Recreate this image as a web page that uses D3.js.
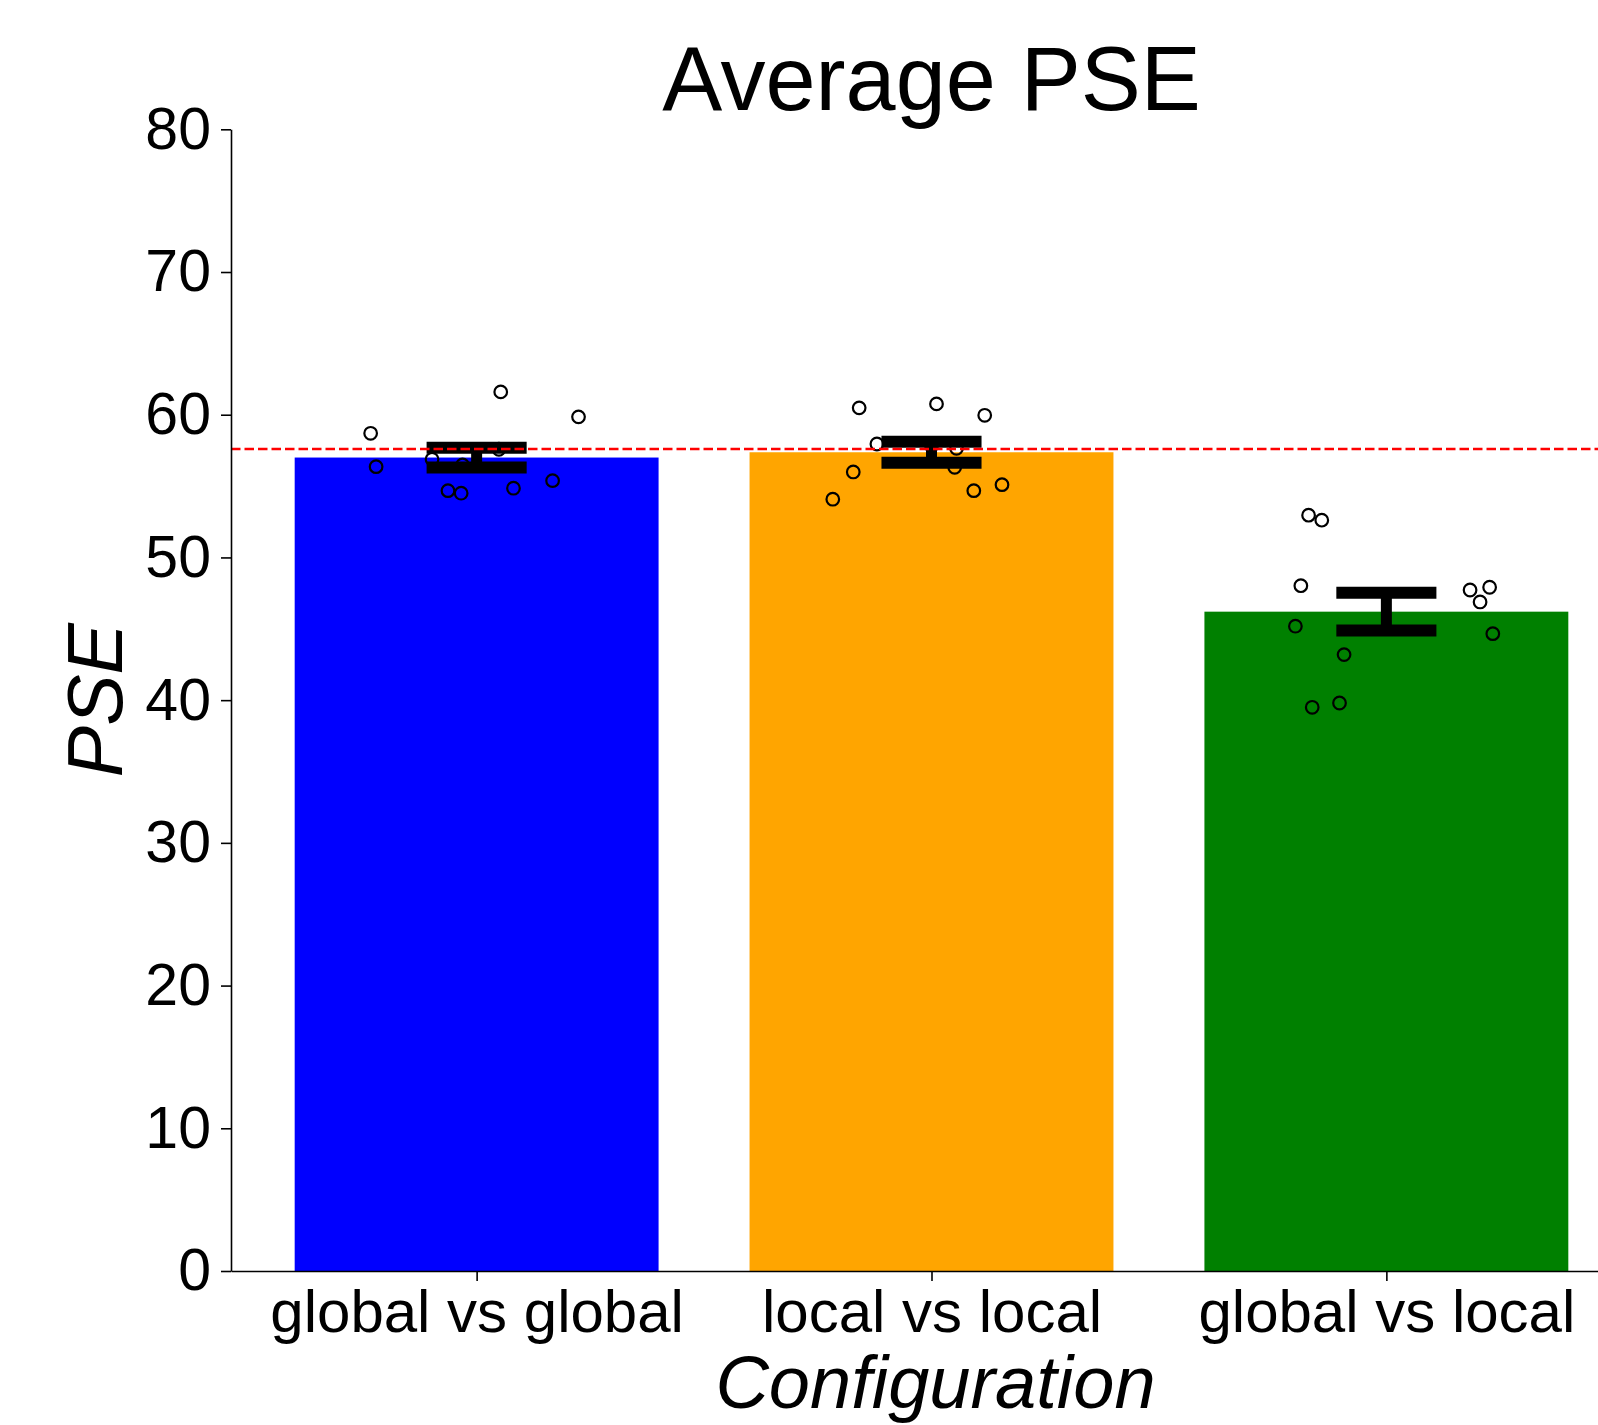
<!DOCTYPE html>
<html>
<head>
<meta charset="utf-8">
<script src="https://cdn.jsdelivr.net/npm/d3@7"></script>
<style>
  body { margin: 0; background: #fff; }
  text { font-family: "Liberation Sans", Arial, Helvetica, sans-serif; }
</style>
</head>
<body>
<div id="chart"></div>
<script>
// data
var categories = ["global vs global", "local vs local", "global vs local"];
var barColors = ["#0000ff", "#ffa500", "#008000"];
var means = [57.0, 57.37, 46.2];
var errors = [0.69, 0.73, 1.32];
var refLine = 57.6;
var yTicks = [0, 10, 20, 30, 40, 50, 60, 70, 80];

// single participants: jitter (category units) and value
var ptsGlobalGlobal = [
  [-0.233, 58.70], [-0.221, 56.36], [-0.098, 56.88], [-0.031, 56.48],
  [-0.063, 54.68], [-0.034, 54.50], [0.053, 61.60], [0.049, 57.58],
  [0.081, 54.85], [0.167, 55.38], [0.224, 59.85]
];
var ptsLocalLocal = [
  [-0.159, 60.48], [0.011, 60.76], [0.117, 59.96], [-0.120, 57.95],
  [-0.172, 55.99], [-0.217, 54.08], [0.055, 57.65], [0.051, 56.32],
  [0.093, 54.68], [0.155, 55.10], [0.0, 57.8]
];
var ptsGlobalLocal = [
  [-0.171, 52.96], [-0.142, 52.61], [-0.188, 48.02], [-0.200, 45.18],
  [-0.093, 43.19], [-0.163, 39.50], [-0.103, 39.80], [0.184, 47.72],
  [0.227, 47.91], [0.206, 46.88], [0.234, 44.66]
];
var points = [ptsGlobalGlobal, ptsLocalLocal, ptsGlobalLocal];

///////////////////////////////////////////
// layout
///////////////////////////////////////////
var W = 1598, H = 1425;
var plot = { left: 231, right: 1632, top: 129.3, bottom: 1271 };
var barWidth = 0.8;

var svg = d3.select("#chart").append("svg")
  .attr("width", W)
  .attr("height", H);

var x = d3.scaleLinear()
  .domain([-0.54, 2.54])
  .range([plot.left, plot.right]);

var y = d3.scaleLinear()
  .domain([0, 80])
  .range([plot.bottom, plot.top]);

var g = svg.append("g");

// bars
g.selectAll(".bar")
  .data(means)
  .enter().append("rect")
  .attr("class", "bar")
  .attr("x", function(d, i) { return x(i - barWidth / 2); })
  .attr("width", function(d, i) { return x(i + barWidth / 2) - x(i - barWidth / 2); })
  .attr("y", function(d) { return y(d); })
  .attr("height", function(d) { return y(0) - y(d); })
  .attr("fill", function(d, i) { return barColors[i]; });

// individual points
points.forEach(function(pts, i) {
  g.selectAll(".pt" + i)
    .data(pts)
    .enter().append("circle")
    .attr("class", "pt" + i)
    .attr("cx", function(d) { return x(i + d[0]); })
    .attr("cy", function(d) { return y(d[1]); })
    .attr("r", 6.3)
    .attr("fill", "none")
    .attr("stroke", "#000")
    .attr("stroke-width", 2.2);
});

// error bars
var capHalf = 0.11;
var eb = g.selectAll(".err")
  .data(means)
  .enter().append("g")
  .attr("class", "err");
eb.append("line")
  .attr("x1", function(d, i) { return x(i); })
  .attr("x2", function(d, i) { return x(i); })
  .attr("y1", function(d, i) { return y(d + errors[i]); })
  .attr("y2", function(d, i) { return y(d - errors[i]); })
  .attr("stroke", "#000")
  .attr("stroke-width", 11);
[1, -1].forEach(function(s) {
  eb.append("line")
    .attr("x1", function(d, i) { return x(i - capHalf); })
    .attr("x2", function(d, i) { return x(i + capHalf); })
    .attr("y1", function(d, i) { return y(d + s * errors[i]); })
    .attr("y2", function(d, i) { return y(d + s * errors[i]); })
    .attr("stroke", "#000")
    .attr("stroke-width", 12);
});

// reference line
g.append("line")
  .attr("x1", plot.left)
  .attr("x2", plot.right)
  .attr("y1", y(refLine))
  .attr("y2", y(refLine))
  .attr("stroke", "#ff0000")
  .attr("stroke-width", 2.5)
  .attr("stroke-dasharray", "9.5,4");

///////////////////////////////////////////
// axes
///////////////////////////////////////////
var yAxis = svg.append("g")
  .attr("transform", "translate(" + plot.left + ",0)")
  .call(d3.axisLeft(y).tickValues(yTicks).tickSize(10).tickPadding(10).tickSizeOuter(0));
yAxis.selectAll("text").style("font-size", "59px").attr("fill", "#000");

var xAxis = svg.append("g")
  .attr("transform", "translate(0," + plot.bottom + ")")
  .call(d3.axisBottom(x).tickValues([0, 1, 2]).tickFormat(function(d) { return categories[d]; })
    .tickSize(10).tickSizeOuter(0));
xAxis.selectAll("text")
  .style("font-size", "60px")
  .attr("fill", "#000")
  .attr("dy", null)
  .attr("y", 61);

svg.selectAll(".domain, .tick line")
  .attr("stroke", "#000")
  .attr("stroke-width", 1.6);

// titles
svg.append("text")
  .attr("x", (plot.left + plot.right) / 2)
  .attr("y", 110)
  .attr("text-anchor", "middle")
  .style("font-size", "90px")
  .text("Average PSE");

svg.append("text")
  .attr("x", (plot.left + plot.right) / 2 + 4)
  .attr("y", 1408)
  .attr("text-anchor", "middle")
  .style("font-size", "74px")
  .style("font-style", "italic")
  .text("Configuration");

svg.append("text")
  .attr("transform", "translate(122," + (plot.top + plot.bottom) / 2 + ") rotate(-90)")
  .attr("text-anchor", "middle")
  .style("font-size", "77px")
  .style("font-style", "italic")
  .text("PSE");
</script>
</body>
</html>
